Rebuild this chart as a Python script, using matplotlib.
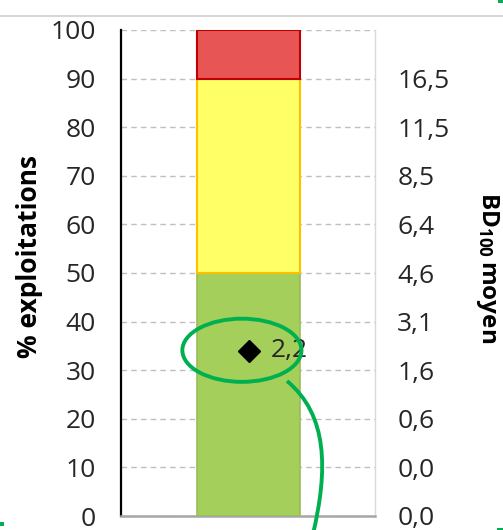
import matplotlib
matplotlib.use("Agg")
import matplotlib.pyplot as plt
from matplotlib.patches import Ellipse, PathPatch, Rectangle
from matplotlib.path import Path
from matplotlib.lines import Line2D

# ---- data ----
categories = [""]
green_vals = [50]
yellow_vals = [40]
red_vals = [10]
point_vals = [34]
point_labels = ["2,2"]
left_ticks = [0, 10, 20, 30, 40, 50, 60, 70, 80, 90, 100]
right_tick_pos = [0, 10, 20, 30, 40, 50, 60, 70, 80, 90]
right_tick_labels = ["0,0", "0,0", "0,6", "1,6", "3,1", "4,6", "6,4", "8,5", "11,5", "16,5"]

plt.rcParams['font.family'] = ['Open Sans', 'DejaVu Sans']
plt.rcParams['mathtext.fontset'] = 'custom'
plt.rcParams['mathtext.bf'] = 'Open Sans:bold'
plt.rcParams['mathtext.rm'] = 'Open Sans'

W, H = 503, 530
fig = plt.figure(figsize=(W / 100, H / 100), dpi=100)
ax = fig.add_axes([121 / W, 14 / H, 254 / W, 486 / H])

x = range(len(categories))
bw = 0.406
ax.bar(x, green_vals, width=bw, color="#A4CF5B", edgecolor="#9BBB59", linewidth=1.2, zorder=3)
ax.bar(x, yellow_vals, bottom=green_vals, width=bw, color="#FFFF66", edgecolor="#FFC000", linewidth=1.5, zorder=3)
bottoms = [g + y for g, y in zip(green_vals, yellow_vals)]
ax.bar(x, red_vals, bottom=bottoms, width=bw, color="#E85555", edgecolor="#C00000", linewidth=1.5, zorder=3)

ax.plot(x, point_vals, linestyle="none", marker="D", markersize=11, color="black", zorder=5)
for xi, yv, lab in zip(x, point_vals, point_labels):
    ax.annotate(lab, (xi, yv), xytext=(16, 0), textcoords="offset points",
                ha="left", va="center", fontsize=19, color="#262626", zorder=6)

ax.set_xlim(-0.502, 0.498)
ax.set_ylim(0, 100)
ax.set_yticks(left_ticks)
ax.set_xticks([])
ax.tick_params(axis="y", length=0, pad=18, labelsize=19, labelcolor="#262626")
ax.yaxis.grid(True, color="#BFBFBF", linestyle=(0, (4, 3)), linewidth=1.0, zorder=0)
ax.set_axisbelow(True)
ax.spines["top"].set_visible(False)
ax.spines["left"].set_color("black")
ax.spines["left"].set_linewidth(1.6)
ax.spines["bottom"].set_color("#A6A6A6")
ax.spines["bottom"].set_linewidth(1.8)
ax.spines["right"].set_color("#D9D9D9")
ax.spines["right"].set_linewidth(1.0)

ax2 = ax.twinx()
ax2.set_ylim(0, 100)
ax2.set_yticks(right_tick_pos)
ax2.set_yticklabels(right_tick_labels)
ax2.tick_params(axis="y", length=0, pad=16, labelsize=19, labelcolor="#262626")
for s in ["top", "left", "bottom", "right"]:
    ax2.spines[s].set_visible(False)

fig.text(30 / W, 1 - 256 / H, "% exploitations", rotation=90, ha="center", va="center",
         fontsize=19, fontweight="bold", color="black")
fig.text(488 / W, 1 - 268 / H, r"$\mathbf{BD_{100}\,moyen}$", rotation=-90, ha="center", va="center",
         fontsize=17.5, color="black")

# annotations (green highlight)
gcol = "#00B050"
ell = Ellipse((-0.026, 34.1), 0.469, 13.0, fill=False, edgecolor=gcol, linewidth=2.8,
              clip_on=False, zorder=7)
ax.add_patch(ell)

def fp(px, py):
    return (px / W, 1 - py / H)

verts = [fp(287, 381), fp(328, 415), fp(328, 470), fp(313, 534)]
codes = [Path.MOVETO, Path.CURVE4, Path.CURVE4, Path.CURVE4]
fig.add_artist(PathPatch(Path(verts, codes), fill=False, edgecolor=gcol, linewidth=2.8,
                         transform=fig.transFigure))

fig.add_artist(Line2D([0, 1], [1 - 16 / H, 1 - 16 / H], color="#D0D0D0", linewidth=1.2,
                      transform=fig.transFigure))
for (rx, ry, rw, rh) in [(498, 0, 5, 3), (0, 522, 4, 4), (497, 528, 6, 2)]:
    fig.add_artist(Rectangle((rx / W, 1 - (ry + rh) / H), rw / W, rh / H, color=gcol,
                             transform=fig.transFigure, linewidth=0))

fig.savefig("out.png", dpi=100)
